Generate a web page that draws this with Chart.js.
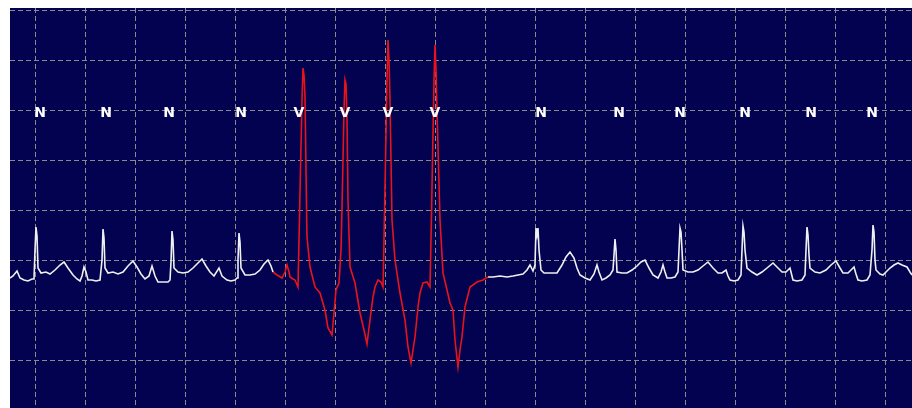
<!DOCTYPE html>
<html><head><meta charset="utf-8">
<script src="https://cdn.jsdelivr.net/npm/chart.js@4.4.1/dist/chart.umd.min.js"></script>
<style>html,body{margin:0;padding:0;background:#fff;overflow:hidden}#c{display:block}</style>
</head><body>
<canvas id="c" width="912" height="408"></canvas>
<script>
// ECG strip: time in ms, amplitude in mV
const timeNormalA = [0,12,28,40,56,72,88,96,100,104,108,112,124,144,160,180,200,216,232,252,268,280,288,296,304,312,328,344,360,368,372,376,380,392,412,432,452,472,492,508,524,540,556,568,580,592,612,632,640,644,648,652,656,672,692,712,732,752,768,784,800,816,836,848,868,884,900,908,912,916,920,924,940,960,980,1000,1016,1032,1044,1052];
const mvNormalA = [0.82,0.84,0.89,0.82,0.80,0.79,0.81,0.81,1.10,1.33,1.24,0.92,0.87,0.88,0.86,0.90,0.95,0.98,0.92,0.85,0.81,0.79,0.84,0.93,0.88,0.80,0.80,0.79,0.80,1.00,1.31,1.22,0.92,0.87,0.88,0.86,0.88,0.94,0.99,0.93,0.86,0.81,0.84,0.94,0.84,0.78,0.78,0.78,0.80,0.98,1.29,1.20,0.92,0.88,0.87,0.88,0.92,0.97,1.01,0.94,0.88,0.84,0.92,0.84,0.80,0.79,0.80,0.82,1.00,1.27,1.18,0.92,0.85,0.85,0.86,0.90,0.96,1.00,0.94,0.88];

const timeVentricular = [1052,1068,1088,1100,1108,1116,1120,1132,1140,1152,1160,1168,1172,1176,1180,1184,1188,1200,1220,1240,1260,1272,1288,1296,1304,1316,1324,1328,1336,1340,1344,1348,1352,1360,1380,1400,1416,1428,1440,1452,1460,1472,1484,1492,1496,1500,1508,1512,1516,1520,1528,1540,1560,1580,1592,1604,1612,1620,1632,1640,1652,1668,1680,1684,1688,1696,1700,1704,1708,1720,1732,1748,1760,1772,1780,1792,1800,1808,1820,1840,1868,1892,1912];
const mvVentricular = [0.88,0.85,0.82,0.88,0.95,0.88,0.83,0.81,0.80,0.73,1.67,2.60,2.92,2.85,2.63,1.90,1.23,0.93,0.73,0.67,0.50,0.32,0.25,0.47,0.70,0.77,1.10,1.53,2.50,2.80,2.76,2.40,1.60,0.93,0.77,0.47,0.30,0.16,0.40,0.63,0.73,0.80,0.78,0.73,1.20,1.73,2.80,3.20,3.00,2.60,1.40,1.00,0.67,0.40,0.13,-0.03,0.10,0.23,0.53,0.67,0.77,0.78,0.73,1.20,1.73,2.80,3.15,2.90,2.50,1.40,0.87,0.70,0.57,0.50,0.20,-0.07,0.10,0.23,0.53,0.73,0.78,0.80,0.83];

const timeNormalB = [1912,1932,1960,1988,2012,2032,2052,2068,2080,2092,2100,2104,2108,2112,2116,2124,2136,2160,2188,2208,2224,2240,2256,2268,2280,2300,2320,2336,2348,2356,2368,2384,2400,2412,2416,2420,2424,2428,2448,2468,2488,2508,2524,2540,2556,2572,2592,2604,2612,2620,2628,2644,2660,2672,2676,2680,2684,2688,2692,2712,2732,2752,2772,2792,2812,2832,2848,2864,2872,2880,2896,2912,2924,2928,2932,2936,2940,2948,2968,2988,3008,3028,3052,3072,3088,3104,3120,3132,3148,3168,3180,3184,3188,3192,3196,3200,3220,3240,3264,3284,3304,3320,3332,3352,3364,3376,3384,3392,3408,3428,3440,3448,3452,3456,3460,3464,3480,3492,3508,3520,3536,3552,3568,3588,3600,3608];
const mvNormalB = [0.83,0.83,0.84,0.83,0.84,0.85,0.86,0.90,0.95,0.89,0.95,1.32,1.25,1.32,1.10,0.90,0.87,0.87,0.87,0.95,1.03,1.08,1.02,0.92,0.85,0.82,0.80,0.86,0.95,0.88,0.80,0.82,0.85,0.90,1.05,1.21,1.10,0.88,0.87,0.87,0.90,0.94,0.98,1.00,0.92,0.85,0.82,0.88,0.95,0.88,0.82,0.82,0.83,0.88,1.10,1.32,1.28,1.10,0.90,0.88,0.88,0.90,0.94,0.98,0.92,0.87,0.87,0.90,0.84,0.80,0.79,0.80,0.85,1.10,1.34,1.28,1.10,0.92,0.88,0.85,0.88,0.92,0.97,0.92,0.88,0.88,0.92,0.80,0.79,0.80,0.85,1.10,1.33,1.25,1.05,0.92,0.88,0.87,0.90,0.95,0.99,0.92,0.87,0.87,0.90,0.93,0.86,0.80,0.79,0.80,0.85,1.10,1.35,1.28,1.00,0.90,0.86,0.85,0.89,0.92,0.95,0.97,0.95,0.93,0.88,0.85];

// Beat annotations
const beatTimes  = [120,384,636,924,1156,1340,1512,1700,2124,2436,2680,2940,3204,3448];
const beatLabels = ['N','N','N','N','V','V','V','V','N','N','N','N','N','N'];
const labelLevelMv = 2.47;

// Axis extents and grid (ms, mV)
const timeMin = 0, timeMax = 3608, gridStartMs = 100, gridStepMs = 200;
const mvMin = -0.48, mvMax = 3.52, gridStartMv = 0, gridStepMv = 0.5;

const zip = (t, v) => t.map((x, i) => ({x, y: v[i]}));

const bgPlugin = {
  id: 'bg',
  beforeDraw(chart) {
    const {ctx, chartArea: a} = chart;
    ctx.save();
    ctx.fillStyle = '#ffffff';
    ctx.fillRect(0, 0, chart.width, chart.height);
    ctx.fillStyle = '#020251';
    ctx.fillRect(a.left, a.top, a.right - a.left, a.bottom - a.top);
    ctx.restore();
  }
};

const labelPlugin = {
  id: 'beatLabels',
  afterDatasetsDraw(chart) {
    const {ctx} = chart;
    const xs = chart.scales.x, ys = chart.scales.y;
    ctx.save();
    ctx.font = 'bold 14px "DejaVu Sans", Arial, sans-serif';
    ctx.fillStyle = '#ffffff';
    ctx.textAlign = 'center';
    ctx.textBaseline = 'middle';
    beatTimes.forEach((t, i) => {
      ctx.fillText(beatLabels[i], xs.getPixelForValue(t), ys.getPixelForValue(labelLevelMv));
    });
    ctx.restore();
  }
};

const lineStyle = {borderWidth: 1.6, pointRadius: 0, tension: 0, fill: false};
const gridColor = '#8a8a8a';

new Chart(document.getElementById('c'), {
  type: 'line',
  data: {
    datasets: [
      Object.assign({label: 'Normal', data: zip(timeNormalA, mvNormalA), borderColor: '#f0f0f0'}, lineStyle),
      Object.assign({label: 'Ventricular', data: zip(timeVentricular, mvVentricular), borderColor: '#e8141a'}, lineStyle),
      Object.assign({label: 'Normal', data: zip(timeNormalB, mvNormalB), borderColor: '#f0f0f0'}, lineStyle)
    ]
  },
  options: {
    responsive: false,
    animation: false,
    devicePixelRatio: 1,
    layout: {padding: {left: 10, top: 8, right: 0, bottom: 0}},
    plugins: {legend: {display: false}, tooltip: {enabled: false}},
    scales: {
      x: {
        type: 'linear', min: timeMin, max: timeMax,
        ticks: {display: false},
        grid: {color: gridColor, lineWidth: 1, drawTicks: false},
        border: {display: false, dash: [5, 3]},
        afterBuildTicks(s) {
          const t = [];
          for (let v = gridStartMs; v <= timeMax; v += gridStepMs) t.push({value: v});
          s.ticks = t;
        }
      },
      y: {
        type: 'linear', min: mvMin, max: mvMax,
        ticks: {display: false},
        grid: {color: gridColor, lineWidth: 1, drawTicks: false},
        border: {display: false, dash: [5, 3]},
        afterBuildTicks(s) {
          const t = [];
          for (let v = gridStartMv; v <= mvMax + 1e-9; v += gridStepMv) t.push({value: +v.toFixed(2)});
          s.ticks = t;
        }
      }
    }
  },
  plugins: [bgPlugin, labelPlugin]
});
</script>
</body></html>
